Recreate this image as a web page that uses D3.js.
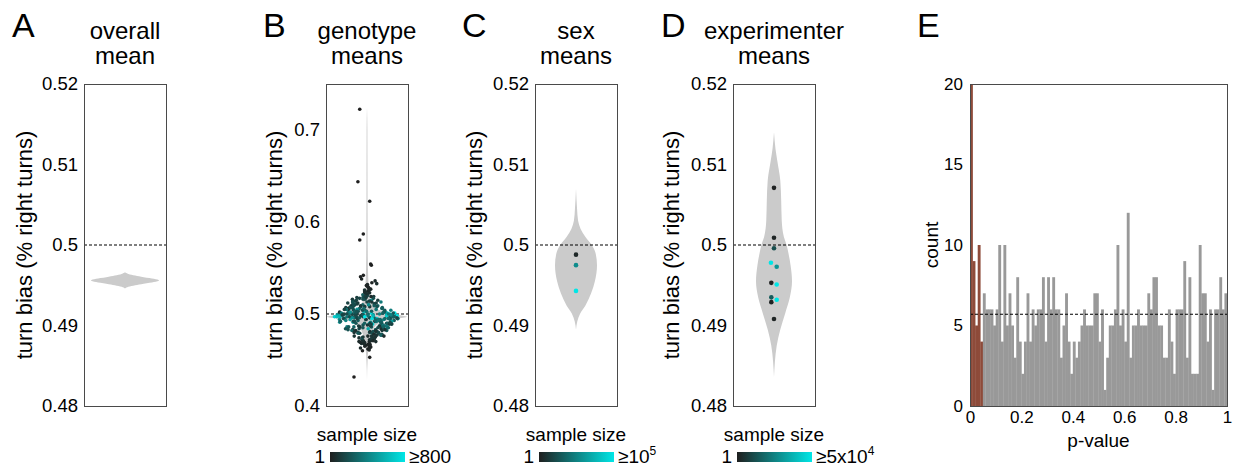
<!DOCTYPE html>
<meta charset="utf-8">

<script src="https://d3js.org/d3.v7.min.js"></script>
<div id="my_dataviz"></div>

<style>
  body { margin: 0; background: #fff; }
  text { font-family: "Liberation Sans", Arial, sans-serif; fill: #000; }
</style>

<script>
  // ---- data ----
  var biasTicks = [0.48, 0.49, 0.5, 0.51, 0.52];
  var biasTickLabels = ["0.48", "0.49", "0.5", "0.51", "0.52"];
  var genoTicks = [0.4, 0.5, 0.6, 0.7];
  var genoTickLabels = ["0.4", "0.5", "0.6", "0.7"];
  var countTicks = [0, 5, 10, 15, 20];
  var pTicks = [0, 0.2, 0.4, 0.6, 0.8, 1];
  var pTickLabels = ["0", "0.2", "0.4", "0.6", "0.8", "1"];

  // violin profiles: turn bias value and relative half width
  var overallViolinY = [0.4946, 0.4948, 0.4950, 0.4952, 0.4953, 0.4954, 0.4956, 0.4958, 0.4959, 0.4960, 0.4962, 0.4964, 0.4966];
  var overallViolinW = [0, 0.1, 0.3, 0.55, 0.72, 0.85, 1.0, 0.85, 0.72, 0.55, 0.3, 0.1, 0];

  var genoViolinY = [0.428, 0.45, 0.46, 0.47, 0.48, 0.485, 0.49, 0.493, 0.495, 0.497, 0.499, 0.501, 0.504, 0.508, 0.515, 0.525, 0.54, 0.56, 0.6, 0.65, 0.7, 0.725];
  var genoViolinW = [0, 0.015, 0.03, 0.06, 0.12, 0.18, 0.3, 0.5, 0.75, 1.0, 0.8, 0.55, 0.32, 0.18, 0.1, 0.05, 0.03, 0.02, 0.015, 0.012, 0.01, 0];

  var sexViolinY = [0.4895, 0.4905, 0.4915, 0.4925, 0.494, 0.4955, 0.4975, 0.499, 0.5, 0.501, 0.502, 0.503, 0.5045, 0.507];
  var sexViolinW = [0, 0.06, 0.2, 0.45, 0.72, 0.9, 1.0, 0.93, 0.75, 0.45, 0.22, 0.1, 0.05, 0];

  var expViolinY = [0.4836, 0.4855, 0.4875, 0.4895, 0.4915, 0.4935, 0.4955, 0.4975, 0.499, 0.5, 0.501, 0.503, 0.5055, 0.508, 0.5105, 0.512, 0.514];
  var expViolinW = [0, 0.05, 0.15, 0.35, 0.62, 0.88, 1.0, 0.92, 0.8, 0.7, 0.55, 0.43, 0.4, 0.35, 0.18, 0.08, 0];

  // genotype means
  var genoMeans = [
    0.497, 0.509, 0.483, 0.515, 0.490, 0.502, 0.476, 0.521, 0.499, 0.486,
    0.511, 0.494, 0.470, 0.504, 0.488, 0.526, 0.498, 0.480, 0.514, 0.492,
    0.466, 0.506, 0.484, 0.519, 0.496, 0.474, 0.510, 0.500, 0.487, 0.529,
    0.491, 0.503, 0.468, 0.513, 0.481, 0.498, 0.523, 0.493, 0.477, 0.507,
    0.463, 0.495, 0.517, 0.486, 0.501, 0.473, 0.510, 0.494, 0.469, 0.520,
    0.499, 0.482, 0.508, 0.490, 0.531, 0.478, 0.500, 0.512, 0.472, 0.494,
    0.504, 0.465, 0.495, 0.516, 0.485, 0.500, 0.476, 0.524, 0.491, 0.503,
    0.479, 0.510, 0.497, 0.470, 0.506, 0.488, 0.527, 0.483, 0.499, 0.474,
    0.514, 0.493, 0.467, 0.502, 0.481, 0.509, 0.496, 0.471, 0.518, 0.487,
    0.500, 0.476, 0.507, 0.491, 0.528, 0.497, 0.470, 0.504, 0.485, 0.515,
    0.494, 0.464, 0.502, 0.480, 0.512, 0.496, 0.475, 0.521, 0.489, 0.499,
    0.506, 0.484, 0.468, 0.497, 0.518, 0.478, 0.499, 0.525, 0.492, 0.473,
    0.501, 0.488, 0.510, 0.466, 0.495, 0.508, 0.482, 0.500, 0.471, 0.519,
    0.492, 0.513, 0.477, 0.498, 0.530, 0.486, 0.503, 0.469, 0.495, 0.511,
    0.481, 0.500, 0.522, 0.490, 0.474, 0.505, 0.494, 0.462, 0.516, 0.497,
    0.485, 0.511, 0.475, 0.502, 0.496, 0.526, 0.479, 0.499, 0.489, 0.470,
    0.507, 0.492, 0.518, 0.483, 0.497, 0.467, 0.503, 0.477, 0.513, 0.498,
    0.490, 0.472, 0.501, 0.523, 0.486, 0.495, 0.479, 0.509, 0.465, 0.500,
    0.514, 0.494, 0.482, 0.505, 0.532, 0.487, 0.498, 0.474, 0.517, 0.492,
    0.501, 0.468, 0.497, 0.511, 0.480, 0.490, 0.524, 0.499, 0.473, 0.508,
    0.496, 0.504, 0.487, 0.499, 0.493, 0.507, 0.484, 0.502, 0.495, 0.489,
    0.500, 0.491, 0.509, 0.497, 0.482, 0.505, 0.494, 0.498, 0.512, 0.486,
    0.493, 0.506, 0.479, 0.501, 0.496, 0.490, 0.515, 0.497, 0.488, 0.503,
    0.498, 0.485, 0.502, 0.494, 0.508, 0.492, 0.499, 0.481, 0.505, 0.496,
    0.490, 0.500, 0.495, 0.513, 0.487, 0.503, 0.497, 0.492, 0.476, 0.501,
    0.505, 0.494, 0.499, 0.484, 0.510, 0.496, 0.489, 0.502, 0.498, 0.480,
    0.492, 0.508, 0.486, 0.497, 0.501, 0.519, 0.493, 0.485, 0.504, 0.495,
    0.499, 0.483, 0.506, 0.491, 0.497, 0.487, 0.511, 0.500, 0.494, 0.478,
    0.503, 0.496, 0.489, 0.516, 0.493, 0.500, 0.482, 0.498, 0.507, 0.491,
    0.486, 0.501, 0.497, 0.505, 0.471, 0.495, 0.502, 0.490, 0.499, 0.509,
    0.7225, 0.6438, 0.6225, 0.587, 0.5804, 0.5543, 0.5530, 0.542, 0.5405, 0.534,
    0.536, 0.538, 0.533, 0.461, 0.463, 0.460, 0.4529, 0.4315
  ];
  var genoJitter = [
    -0.12, 0.45, -0.63, 0.22, 0.71, -0.38, 0.05, -0.27, 0.88, -0.81,
    0.33, -0.55, 0.18, -0.09, 0.62, -0.21, 0.94, -0.44, -0.70, 0.27,
    -0.15, 0.58, -0.92, 0.40, 0.08, 0.36, -0.60, 0.75, -0.33, 0.12,
    0.51, -0.02, -0.47, 0.66, 0.29, -0.86, 0.19, -0.30, 0.83, -0.68,
    0.24, 0.99, -0.41, -0.74, 0.15, 0.48, -0.18, 0.37, -0.52, 0.03,
    -0.89, 0.69, -0.25, 0.10, -0.06, 0.78, -0.58, 0.42, -0.35, 0.55,
    0.64, -0.20, 0.31, -0.77, 0.85, -0.48, 0.26, -0.13, -0.96, 0.16,
    -0.37, 0.07, 0.72, -0.61, -0.29, 0.53, 0.34, -0.84, 0.20, 0.44,
    -0.56, 0.91, 0.10, -0.10, 0.47, -0.66, -0.39, 0.28, -0.23, 0.79,
    0.04, -0.73, 0.60, -0.49, 0.18, -0.32, 0.67, 0.86, -0.17, -0.54,
    -0.90, 0.35, -0.64, 0.13, -0.42, 0.74, 0.50, -0.07, 0.21, -0.79,
    0.57, -0.34, -0.22, 0.82, -0.58, 0.39, -0.95, 0.09, -0.46, 0.30,
    0.68, -0.15, -0.52, 0.25, -0.71, 0.11, 0.90, 0.41, -0.26, -0.12,
    -0.43, 0.23, 0.76, -0.87, 0.06, 0.61, -0.36, -0.19, 0.97, -0.62,
    0.14, -0.80, 0.02, 0.52, -0.30, -0.68, 0.43, 0.08, -0.11, -0.99,
    0.89, 0.32, -0.24, -0.57, 0.70, 0.19, -0.45, 0.63, 0.16, -0.28,
    -0.65, 0.46, -0.05, 0.38, -0.82, 0.27, -0.31, 0.54, 0.00, 0.84,
    -0.40, 0.17, 0.93, -0.14, -0.53, -0.75, 0.59, 0.30, 0.22, -0.60,
    0.12, 0.77, -0.69, -0.37, 0.04, 0.48, -0.08, -0.50, 0.35, -0.91,
    0.65, -0.26, 0.81, -0.44, 0.56, 0.09, -0.18, -0.76, 0.28, 0.40,
    0.22, -0.48, 0.71, -0.15, 0.39, -0.83, 0.05, 0.58, -0.31, 0.90,
    -0.66, 0.13, -0.27, 0.80, -0.52, 0.34, -0.04, 0.61, -0.88, 0.18,
    0.47, -0.72, 0.26, -0.40, 0.93, -0.09, 0.55, -0.61, 0.02, -0.35,
    -0.20, 0.67, -0.94, 0.31, -0.57, 0.85, -0.13, 0.42, -0.76, 0.09,
    0.74, -0.33, 0.16, -0.68, 0.50, -0.02, -0.45, 0.29, 0.97, -0.86,
    -0.51, 0.38, -0.79, 0.60, 0.07, -0.24, 0.83, -0.42, 0.19, -0.63,
    0.33, -0.09, 0.66, -0.53, 0.88, 0.24, -0.71, 0.45, -0.16, 0.57,
    -0.38, 0.79, -0.12, 0.49, -0.92, 0.14, -0.58, 0.70, -0.03, 0.36,
    0.62, -0.46, 0.92, -0.21, 0.28, -0.75, 0.40, 0.03, -0.64, 0.81,
    -0.29, 0.53, -0.07, -0.84, 0.44, 0.68, -0.37, 0.11, 0.76, -0.55,
    -0.67, -0.84, 0.25, -0.34, -0.67, 0.34, 0.40, -0.34, -0.6, 0.45,
    0.75, -0.5, 0.9, 0.2, -0.6, -0.42, 0.25, -1.2
  ];
  var genoN = [
    180, 290, 70, 430, 130, 650, 40, 240, 110, 380,
    220, 520, 30, 190, 330, 90, 820, 150, 270, 60,
    15, 400, 200, 100, 250, 50, 310, 600, 140, 40,
    280, 170, 80, 360, 210, 470, 60, 260, 120, 320,
    20, 430, 150, 230, 900, 95, 270, 190, 35, 160,
    350, 115, 210, 510, 30, 180, 290, 130, 70, 390,
    230, 25, 700, 110, 300, 170, 95, 50, 420, 260,
    150, 340, 220, 45, 280, 760, 35, 200, 450, 100,
    140, 240, 15, 550, 175, 115, 320, 55, 205, 380,
    300, 85, 255, 490, 30, 190, 65, 380, 220, 145,
    420, 20, 310, 160, 110, 270, 80, 130, 680, 195,
    250, 180, 40, 355, 125, 225, 460, 30, 170, 70,
    850, 205, 145, 18, 290, 100, 235, 410, 60, 140,
    190, 95, 260, 540, 25, 330, 150, 50, 220, 125,
    85, 370, 65, 205, 240, 115, 305, 15, 175, 720,
    285, 145, 100, 455, 195, 40, 225, 335, 130, 70,
    165, 400, 115, 255, 600, 28, 210, 95, 150, 320,
    220, 55, 800, 80, 275, 180, 140, 245, 22, 350,
    125, 210, 290, 480, 35, 160, 385, 75, 190, 260,
    520, 45, 225, 130, 175, 880, 58, 285, 110, 195,
    240, 160, 330, 90, 270, 120, 560, 200, 150, 310,
    180, 430, 105, 260, 60, 350, 210, 690, 140, 230,
    300, 75, 190, 410, 155, 265, 120, 340, 95, 215,
    135, 280, 60, 370, 185, 500, 245, 110, 320, 170,
    260, 140, 780, 205, 90, 315, 175, 240, 50, 385,
    195, 325, 150, 70, 440, 225, 130, 290, 610, 85,
    350, 120, 270, 185, 230, 45, 400, 160, 215, 295,
    170, 80, 305, 250, 640, 140, 195, 360, 110, 65,
    235, 470, 125, 190, 280, 150, 85, 330, 205, 175,
    100, 260, 950, 145, 40, 300, 215, 120, 390, 180,
    3, 2, 4, 5, 3, 6, 8, 10, 12, 20,
    40, 30, 60, 25, 45, 9, 7, 2
  ];

  // sex means
  var sexMeans = [0.4988, 0.4975, 0.4943];
  var sexJitter = [0, 0, 0];
  var sexN = [4000, 55000, 120000];

  // experimenter means
  var expMeans = [0.5071, 0.5009, 0.4996, 0.4978, 0.4973, 0.4953, 0.4951, 0.4935, 0.4929, 0.4932, 0.4908];
  var expJitter = [0, 0, 0, -0.17, 0.15, -0.15, 0.15, -0.15, -0.15, 0.15, 0];
  var expN = [800, 1500, 12000, 52000, 30000, 600, 60000, 15000, 900, 55000, 1200];

  // p-value histogram, bins of width 0.01
  var binWidth = 0.01;
  var alpha = 0.05;
  var expectedCount = 5.7;
  var pCounts = [
    20, 9, 5, 10, 4,
    7, 6, 6, 6, 5, 6, 10, 4, 10, 5,
    7, 5, 3, 8, 4, 2, 4, 7, 4, 6,
    5, 6, 6, 8, 4, 8, 6, 8, 6, 6,
    3, 5, 7, 4, 2, 4, 3, 4, 5, 6,
    5, 5, 5, 7, 7, 4, 6, 1, 3, 5,
    5, 6, 10, 5, 6, 4, 12, 3, 5, 5,
    6, 5, 5, 5, 7, 6, 8, 8, 5, 5,
    3, 3, 6, 4, 2, 6, 6, 6, 9, 3,
    8, 2, 2, 2, 10, 7, 7, 4, 6, 1,
    6, 6, 8, 6, 7
  ];

  // ---- drawing ----
  var width = 1236, height = 470;
  var plotTop = 84, plotBottom = 406, boxW = 82;
  var violinFill = "#cbcbcb";
  var darkColor = "#1f1f1f", cyanColor = "#00e6e6";

  var svg = d3.select("#my_dataviz").append("svg")
    .attr("width", width)
    .attr("height", height);

  var defs = svg.append("defs");
  var grad = defs.append("linearGradient").attr("id", "sizeGrad");
  grad.append("stop").attr("offset", "0%").attr("stop-color", darkColor);
  grad.append("stop").attr("offset", "100%").attr("stop-color", cyanColor);

  function styleAxis(g, size) {
    g.select(".domain").remove();
    g.attr("font-family", null).attr("font-size", null);
    g.selectAll("text").attr("font-size", size).attr("fill", "#000");
  }

  function violinPanel(o) {
    var g = svg.append("g");
    var cx = o.left + boxW / 2;
    var y = d3.scaleLinear().domain(o.domain).range([plotBottom, plotTop]);
    var x = d3.scaleLinear().domain([-1, 1]).range([cx - o.half, cx + o.half]);

    var prof = o.vy.map(function (v, i) { return { v: v, w: o.vw[i] }; });
    var area = d3.area()
      .y(function (d) { return y(d.v); })
      .x0(function (d) { return x(-d.w); })
      .x1(function (d) { return x(d.w); })
      .curve(d3.curveMonotoneY);
    g.append("path").datum(prof).attr("d", area).attr("fill", violinFill);

    g.append("line")
      .attr("x1", o.left).attr("x2", o.left + boxW)
      .attr("y1", y(0.5)).attr("y2", y(0.5))
      .attr("stroke", "#000").attr("stroke-width", 1.1).attr("stroke-dasharray", "3,2");

    if (o.pts) {
      var col = d3.scaleLinear().domain([1, o.nMax]).range([darkColor, cyanColor]).clamp(true);
      g.selectAll("circle.pt").data(o.pts).enter().append("circle")
        .attr("class", "pt")
        .attr("cx", function (d) { return x(d.j * (o.env ? o.env(d.v) : 1)); })
        .attr("cy", function (d) { return y(d.v); })
        .attr("r", o.r)
        .attr("fill", function (d) { return col(d.n); });
    }

    g.append("rect")
      .attr("x", o.left + 0.5).attr("y", plotTop + 0.5)
      .attr("width", boxW).attr("height", plotBottom - plotTop)
      .attr("fill", "none").attr("stroke", "#4a4a4a").attr("stroke-width", 1);

    var ax = g.append("g").attr("transform", "translate(" + o.left + ",0)")
      .call(d3.axisLeft(y).tickValues(o.ticks)
        .tickFormat(function (d, i) { return o.tickLabels[i]; })
        .tickSize(0).tickPadding(6));
    styleAxis(ax, 18.5);

    g.append("text")
      .attr("transform", "translate(" + (o.left - o.labelOff) + "," + ((plotTop + plotBottom) / 2) + ") rotate(-90)")
      .attr("text-anchor", "middle")
      .attr("font-size", 22)
      .text("turn bias (% right turns)");

    var t = g.append("text").attr("text-anchor", "middle").attr("font-size", 24);
    t.append("tspan").attr("x", cx).attr("y", 39).text(o.title[0]);
    t.append("tspan").attr("x", cx).attr("y", 64).text(o.title[1]);

    svg.append("text").attr("x", o.letterX).attr("y", 37)
      .attr("font-size", 34).text(o.letter);

    if (o.legendMax) {
      var lg = svg.append("g");
      lg.append("text").attr("x", cx).attr("y", 441).attr("text-anchor", "middle")
        .attr("font-size", 19).text("sample size");
      lg.append("rect").attr("x", cx - 37).attr("y", 452).attr("width", 75).attr("height", 10)
        .attr("fill", "url(#sizeGrad)");
      lg.append("text").attr("x", cx - 42).attr("y", 463).attr("text-anchor", "end")
        .attr("font-size", 19).text("1");
      var mt = lg.append("text").attr("x", cx + 42).attr("y", 463).attr("font-size", 19);
      mt.append("tspan").text(o.legendMax[0]);
      if (o.legendMax[1]) {
        mt.append("tspan").attr("dy", -8).attr("font-size", 12).text(o.legendMax[1]);
      }
    }
  }

  function makePts(vals, jit, ns) {
    return vals.map(function (v, i) { return { v: v, j: jit[i], n: ns[i] }; });
  }

  violinPanel({
    left: 84, domain: [0.48, 0.52], ticks: biasTicks, tickLabels: biasTickLabels,
    half: 34, vy: overallViolinY, vw: overallViolinW,
    labelOff: 52, title: ["overall", "mean"], letter: "A", letterX: 12
  });

  violinPanel({
    left: 326, domain: [0.4, 0.75], ticks: genoTicks, tickLabels: genoTickLabels,
    half: 40, vy: genoViolinY, vw: genoViolinW,
    pts: makePts(genoMeans, genoJitter, genoN), nMax: 800, r: 1.8,
    env: function (v) { return 0.82 * Math.max(0.33, 1 - Math.abs(v - 0.497) / 0.045); },
    labelOff: 44, title: ["genotype", "means"], letter: "B", letterX: 263,
    legendMax: ["\u2265800"]
  });

  violinPanel({
    left: 535, domain: [0.48, 0.52], ticks: biasTicks, tickLabels: biasTickLabels,
    half: 21, vy: sexViolinY, vw: sexViolinW,
    pts: makePts(sexMeans, sexJitter, sexN), nMax: 100000, r: 2.3,
    labelOff: 53, title: ["sex", "means"], letter: "C", letterX: 462,
    legendMax: ["\u226510", "5"]
  });

  violinPanel({
    left: 733, domain: [0.48, 0.52], ticks: biasTicks, tickLabels: biasTickLabels,
    half: 18, vy: expViolinY, vw: expViolinW,
    pts: makePts(expMeans, expJitter, expN), nMax: 50000, r: 2.3,
    labelOff: 54, title: ["experimenter", "means"], letter: "D", letterX: 661,
    legendMax: ["\u22655x10", "4"]
  });

  // ---- panel E: histogram of p-values ----
  var eLeft = 970, eRight = 1227;
  var xE = d3.scaleLinear().domain([0, 1]).range([eLeft, eRight]);
  var yE = d3.scaleLinear().domain([0, 20]).range([plotBottom, plotTop]);
  var gE = svg.append("g");

  gE.selectAll("rect.bar").data(pCounts).enter().append("rect")
    .attr("class", "bar")
    .attr("x", function (d, i) { return xE(i * binWidth); })
    .attr("width", function (d, i) { return xE((i + 1) * binWidth) - xE(i * binWidth) + 0.3; })
    .attr("y", function (d) { return yE(d); })
    .attr("height", function (d) { return yE(0) - yE(d); })
    .attr("fill", function (d, i) { return (i + 1) * binWidth <= alpha + 1e-9 ? "#8e4b3a" : "#999999"; });

  gE.append("line")
    .attr("x1", eLeft).attr("x2", eRight)
    .attr("y1", yE(expectedCount)).attr("y2", yE(expectedCount))
    .attr("stroke", "#000").attr("stroke-width", 1.1).attr("stroke-dasharray", "3,2");

  gE.append("rect")
    .attr("x", eLeft + 0.5).attr("y", plotTop + 0.5)
    .attr("width", eRight - eLeft).attr("height", plotBottom - plotTop)
    .attr("fill", "none").attr("stroke", "#4a4a4a").attr("stroke-width", 1);

  var axY = gE.append("g").attr("transform", "translate(" + eLeft + ",0)")
    .call(d3.axisLeft(yE).tickValues(countTicks).tickSize(0).tickPadding(7));
  styleAxis(axY, 17);

  var axX = gE.append("g").attr("transform", "translate(0," + plotBottom + ")")
    .call(d3.axisBottom(xE).tickValues(pTicks)
      .tickFormat(function (d, i) { return pTickLabels[i]; })
      .tickSize(0).tickPadding(5));
  styleAxis(axX, 17);

  gE.append("text")
    .attr("x", (eLeft + eRight) / 2).attr("y", 447)
    .attr("text-anchor", "middle").attr("font-size", 19)
    .text("p-value");

  gE.append("text")
    .attr("transform", "translate(938," + ((plotTop + plotBottom) / 2) + ") rotate(-90)")
    .attr("text-anchor", "middle").attr("font-size", 19)
    .text("count");

  svg.append("text").attr("x", 917).attr("y", 37).attr("font-size", 34).text("E");
</script>
